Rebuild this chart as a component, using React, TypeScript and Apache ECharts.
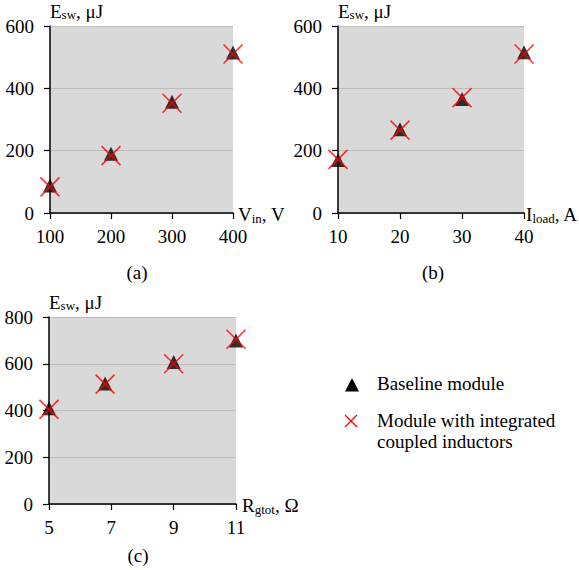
import React, { useEffect, useRef } from 'react';
import * as echarts from 'echarts';

// Switching energy vs. input voltage (a)
const vinValues = [100, 200, 300, 400];
const vinBaseline = [88, 190, 357, 515];
const vinCoupled = [84, 184, 352, 510];

// Switching energy vs. load current (b)
const iloadValues = [10, 20, 30, 40];
const iloadBaseline = [170, 269, 366, 516];
const iloadCoupled = [172, 266, 370, 510];

// Switching energy vs. total gate resistance (c)
const rgValues = [5, 6.8, 9, 11];
const rgBaseline = [410, 516, 608, 700];
const rgCoupled = [405, 513, 600, 705];
const rgTicks = [5, 7, 9, 11];

const BASELINE = 'Baseline module';
const COUPLED = 'Module with integrated coupled inductors';

const FONT = 'Liberation Serif';
const FS = 19;
const BLACK = '#000000';
const RED = '#ff0000';
const CROSS = 'path://M0,0L10,10M10,0L0,10';

// main text + subscript, both rendered on one rich-text line
const rich = {
  a: { fontFamily: FONT, fontSize: FS, color: BLACK, lineHeight: 20 },
  s: { fontFamily: FONT, fontSize: 13, color: BLACK, lineHeight: 15, verticalAlign: 'bottom' },
};

const pairs = (xs: number[], ys: number[]) => xs.map((x, i) => [x, ys[i]]);

function xAxisOf(gridIndex: number, min: number, max: number, interval: number | null, name: string, gap: number, ticks?: number[]) {
  const axis: any = {
    type: 'value',
    gridIndex,
    min,
    max,
    name,
    nameLocation: 'end',
    nameGap: gap,
    nameTextStyle: { verticalAlign: 'middle', align: 'left', padding: [3, 0, 0, 0], rich },
    axisLine: { show: true, onZero: false, lineStyle: { color: BLACK, width: 1.5 } },
    axisTick: { show: true, length: 6, lineStyle: { color: BLACK, width: 1.2 } },
    axisLabel: { fontFamily: FONT, fontSize: FS, color: BLACK, margin: 14 },
    splitLine: { show: false },
  };
  if (interval !== null) axis.interval = interval;
  if (ticks) {
    axis.axisLabel.customValues = ticks;
    axis.axisTick.customValues = ticks;
  }
  return axis;
}

function yAxisOf(gridIndex: number, max: number) {
  return {
    type: 'value',
    gridIndex,
    min: 0,
    max,
    interval: 200,
    name: '{a|E}{s|sw}{a|, μJ}',
    nameLocation: 'end',
    nameGap: 5,
    nameTextStyle: { align: 'left', verticalAlign: 'bottom', rich },
    axisLine: { show: true, lineStyle: { color: BLACK, width: 1.5 } },
    axisTick: { show: true, length: 6, lineStyle: { color: BLACK, width: 1.2 } },
    axisLabel: { fontFamily: FONT, fontSize: FS, color: BLACK, margin: 16 },
    splitLine: { show: true, lineStyle: { color: '#bcbcbc', width: 1 } },
  };
}

function seriesOf(idx: number, xs: number[], base: number[], coupled: number[]) {
  return [
    {
      name: BASELINE,
      type: 'scatter',
      xAxisIndex: idx,
      yAxisIndex: idx,
      symbol: 'triangle',
      symbolSize: 14,
      itemStyle: { color: BLACK },
      data: pairs(xs, base),
      z: 2,
    },
    {
      name: COUPLED,
      type: 'scatter',
      xAxisIndex: idx,
      yAxisIndex: idx,
      symbol: CROSS,
      symbolSize: 19,
      itemStyle: { color: 'rgba(0,0,0,0)', borderColor: RED, borderWidth: 1.6 },
      data: pairs(xs, coupled),
      z: 3,
    },
  ];
}

const gridStyle = { show: true, backgroundColor: '#d9d9d9', borderWidth: 0, containLabel: false };

const textEl = (x: number, y: number, text: string, align = 'center') => ({
  type: 'text',
  x,
  y,
  style: { text, fontFamily: FONT, fontSize: FS, fill: BLACK, align, verticalAlign: 'middle' },
});

const option: any = {
  animation: false,
  backgroundColor: '#ffffff',
  textStyle: { fontFamily: FONT },
  grid: [
    { ...gridStyle, left: 50, top: 26, width: 183, height: 187 },
    { ...gridStyle, left: 338, top: 26, width: 188, height: 187 },
    { ...gridStyle, left: 49, top: 317, width: 187, height: 187 },
  ],
  xAxis: [
    xAxisOf(0, 100, 400, 100, '{a|V}{s|in}{a|, V}', 5),
    xAxisOf(1, 10, 40, 10, '{a|I}{s|load}{a|, A}', 2),
    xAxisOf(2, 5, 11, null, '{a|R}{s|gtot}{a|, Ω}', 6, rgTicks),
  ],
  yAxis: [yAxisOf(0, 600), yAxisOf(1, 600), yAxisOf(2, 800)],
  series: [
    ...seriesOf(0, vinValues, vinBaseline, vinCoupled),
    ...seriesOf(1, iloadValues, iloadBaseline, iloadCoupled),
    ...seriesOf(2, rgValues, rgBaseline, rgCoupled),
  ],
  graphic: [
    textEl(137, 272, '(a)'),
    textEl(433, 272, '(b)'),
    textEl(138, 555, '(c)'),
    // legend
    {
      type: 'polygon',
      shape: { points: [[352, 378], [345, 391.5], [359, 391.5]] },
      style: { fill: BLACK },
    },
    { type: 'line', shape: { x1: 345, y1: 415, x2: 357, y2: 427 }, style: { stroke: RED, lineWidth: 1.3 } },
    { type: 'line', shape: { x1: 357, y1: 415, x2: 345, y2: 427 }, style: { stroke: RED, lineWidth: 1.3 } },
    textEl(377, 383, BASELINE, 'left'),
    textEl(377, 420, 'Module with integrated', 'left'),
    textEl(377, 441, 'coupled inductors', 'left'),
  ],
};

export default function App() {
  const ref = useRef<HTMLDivElement>(null);
  useEffect(() => {
    const chart = echarts.init(ref.current!, null, { renderer: 'svg' });
    chart.setOption(option);
    return () => chart.dispose();
  }, []);
  return (
    <div
      ref={ref}
      style={{ position: 'absolute', left: 0, top: 0, width: 579, height: 570, background: '#ffffff' }}
    />
  );
}
